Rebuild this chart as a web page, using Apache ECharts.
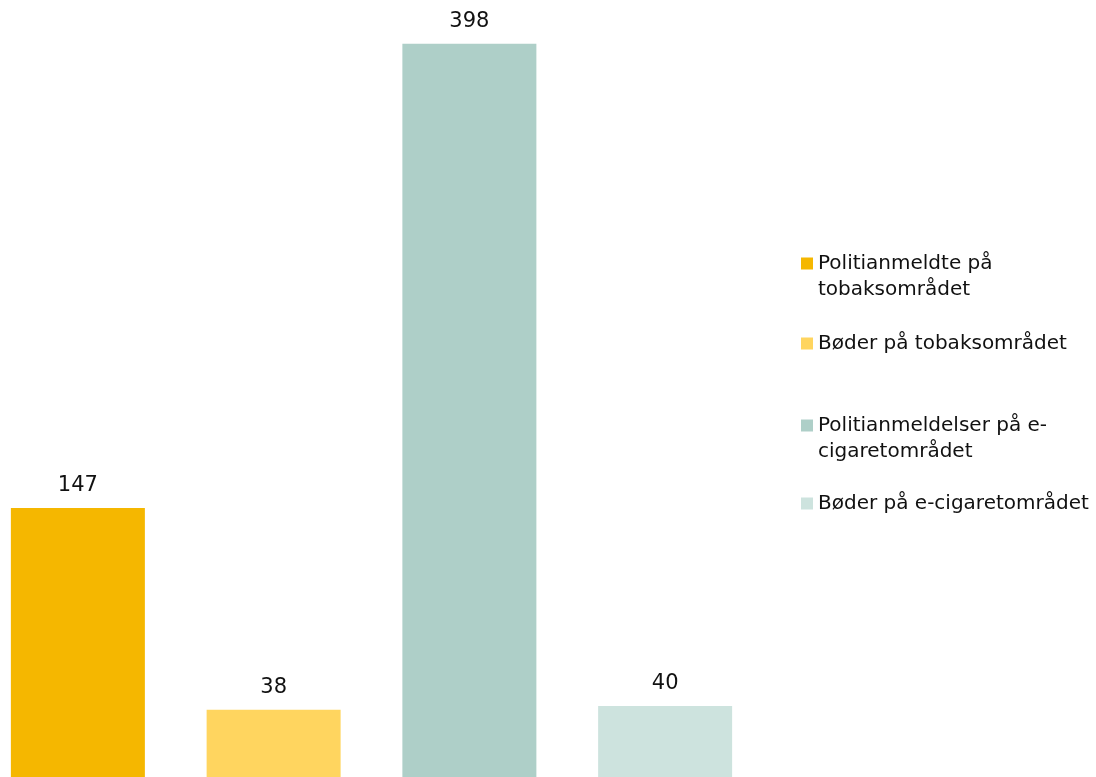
<!DOCTYPE html>
<html>
<head>
<meta charset="utf-8">
<script src="https://cdn.jsdelivr.net/npm/echarts@6/dist/echarts.min.js"></script>
<style>
  html, body { margin: 0; padding: 0; background: #fff; }
  #chart { width: 1096px; height: 777px; }
</style>
</head>
<body>
<div id="chart"></div>
<script>
const categories = ['Politianmeldte på tobaksområdet', 'Bøder på tobaksområdet', 'Politianmeldelser på e-cigaretområdet', 'Bøder på e-cigaretområdet'];
const values = [147, 38, 398, 40];
const colors = ['#F5B700', '#FFD55F', '#AECFC8', '#CDE3DE'];
// legend text as shown (line breaks like the original)
const legendText = ['Politianmeldte på\ntobaksområdet', 'Bøder på tobaksområdet', 'Politianmeldelser på e-\ncigaretområdet', 'Bøder på e-cigaretområdet'];

const FONT = 'DejaVu Sans';
const LH = 26;
const legendTops = [224.5, 330.5, 386.5, 490.5];

function makeSeries() {
  return categories.map((name, i) => ({
    name: name,
    type: 'bar',
    stack: 'all',
    barWidth: 134,
    itemStyle: { color: colors[i] },
    label: {
      show: true,
      position: 'top',
      distance: 12,
      color: '#111',
      fontSize: 21,
      fontFamily: FONT,
      formatter: p => p.value
    },
    data: values.map((v, j) => j === i ? v : '-')
  }));
}

function makeLegends() {
  return categories.map((name, i) => ({
    data: [name],
    orient: 'vertical',
    left: 801,
    top: legendTops[i],
    padding: 0,
    icon: 'rect',
    itemWidth: 12,
    itemHeight: 12,
    selectedMode: false,
    textStyle: { color: '#111', fontSize: 20, fontFamily: FONT, lineHeight: LH },
    // two-line items get a blank first line so the square sits beside line one
    formatter: () => legendText[i].indexOf('\n') >= 0 ? ' \n' + legendText[i] : legendText[i]
  }));
}

const option = {
  animation: false,
  backgroundColor: '#fff',
  grid: { left: -20, width: 783, top: 3, bottom: -3, outerBoundsMode: 'none', containLabel: false },
  xAxis: {
    type: 'category',
    data: categories,
    axisLine: { show: false },
    axisTick: { show: false },
    axisLabel: { show: false },
    splitLine: { show: false }
  },
  yAxis: {
    type: 'value',
    min: 0,
    max: 420,
    show: false,
    splitLine: { show: false }
  },
  legend: makeLegends(),
  series: makeSeries()
};

const myChart = echarts.init(document.getElementById('chart'));
myChart.setOption(option);
</script>
</body>
</html>
